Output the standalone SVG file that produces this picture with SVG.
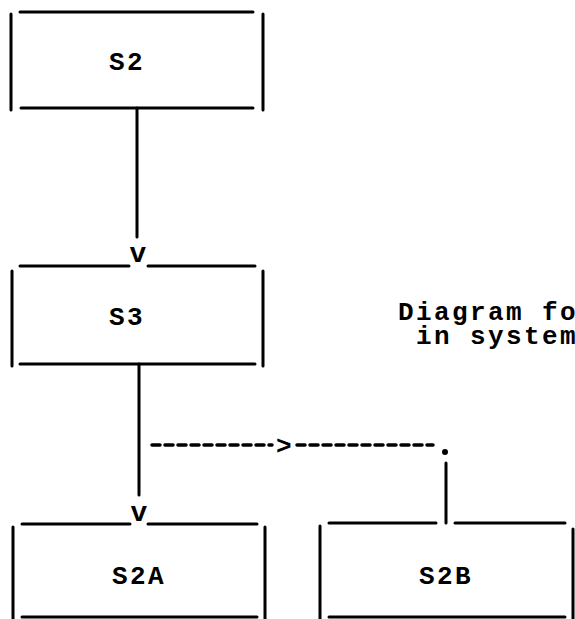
<svg xmlns="http://www.w3.org/2000/svg" width="575" height="619" viewBox="0 0 575 619">
<style>
  .ln { stroke: #000; stroke-width: 3; stroke-linecap: round; fill: none; }
  .dash { stroke: #000; stroke-width: 3.5; stroke-linecap: round; fill: none; stroke-dasharray: 8 5; }
  .t { font-family: "Liberation Mono", "DejaVu Sans Mono", monospace; font-weight: bold; font-size: 26px; letter-spacing: 2.4px; fill: #000; }
  .v { font-family: "Liberation Mono", "DejaVu Sans Mono", monospace; font-weight: bold; font-size: 28px; fill: #000; text-anchor: middle; }
</style>
<rect width="575" height="619" fill="#fff"/>
<g id="S2">
  <path class="ln" d="M20 12 H253 M11 14 V110 M263 14 V110 M21 108 H253"/>
  <text class="t" x="109" y="70">S2</text>
</g>
<g id="S3">
  <path class="ln" d="M20 266 H129 M148 266 H255 M12 271 V366 M263 271 V366 M20 364 H255"/>
  <text class="t" x="109" y="325">S3</text>
</g>
<g id="S2A">
  <path class="ln" d="M22 524 H130 M148 524 H257 M13 527 V619 M265 527 V619 M22 617 H257"/>
  <text class="t" x="112" y="584">S2A</text>
</g>
<g id="S2B">
  <path class="ln" d="M329 523 H436 M455 523 H565 M320 526 V619 M573 529 V619 M329 617 H565"/>
  <text class="t" x="419" y="584">S2B</text>
</g>
<g id="note">
  <text class="t" x="398" y="320">Diagram fo</text>
  <text class="t" x="416" y="344">in system</text>
</g>
<g id="connectors">
  <path class="ln" d="M137 108 V237"/>
  <text class="v" x="138" y="262">v</text>
  <path class="ln" d="M139 364 V495"/>
  <text class="v" x="139" y="521">v</text>
  <path class="dash" d="M152 445 H272"/>
  <text class="t" x="276" y="454">&gt;</text>
  <path class="dash" d="M297 445 H433"/>
  <circle cx="445" cy="452" r="3" fill="#000"/>
  <path class="ln" d="M446 463 V523"/>
</g>
</svg>
